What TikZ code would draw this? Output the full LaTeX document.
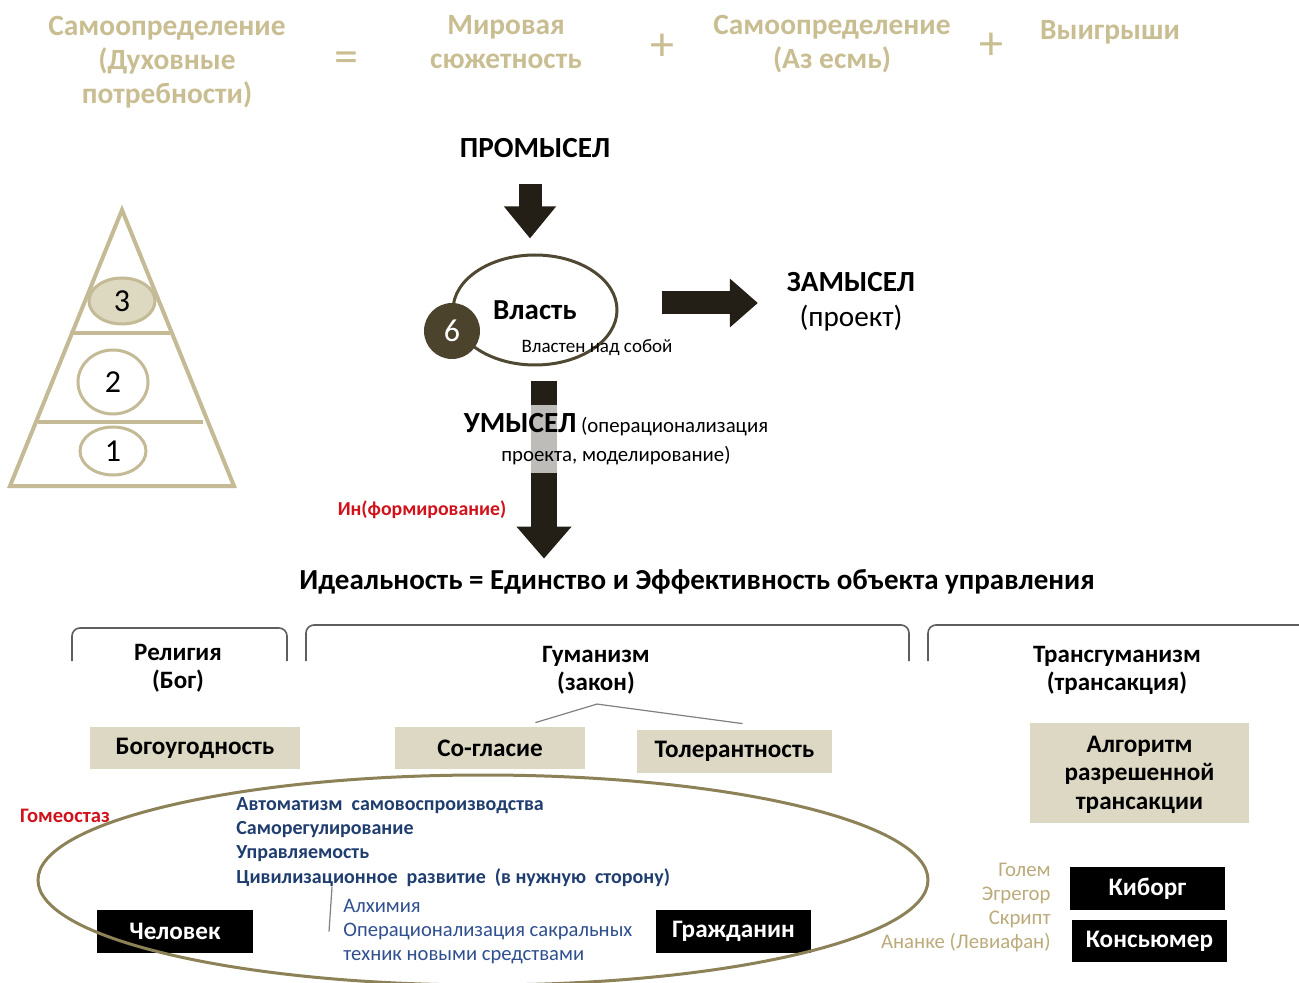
\documentclass[tikz,border=0pt]{standalone}
\usepackage{fontspec}
\setmainfont{Carlito}
\usetikzlibrary{arrows.meta,calc,shapes.geometric}
\definecolor{hdrtan}{HTML}{C9BD92}
\definecolor{pyrtan}{HTML}{C4BA96}
\definecolor{pyrfill}{HTML}{DDD8C0}
\definecolor{arrowdark}{HTML}{231F16}
\definecolor{vlastline}{HTML}{4F4832}
\definecolor{sixfill}{HTML}{4C432D}
\definecolor{boxtan}{HTML}{DDD8C3}
\definecolor{homeoline}{HTML}{8C8157}
\definecolor{brgray}{HTML}{5E5E5E}
\definecolor{navy}{HTML}{1F3D6E}
\definecolor{subblue}{HTML}{2F4F8F}
\definecolor{redtxt}{HTML}{D0121B}
\definecolor{sidetan}{HTML}{BBAA7A}
\def\fs#1#2{\fontsize{#1}{#2}\selectfont}
\tikzset{
  hdr/.style={text=hdrtan, font=\fs{14.7}{17}\bfseries, align=center},
  hdrsign/.style={text=hdrtan, font=\fs{24}{24}},
  pyr/.style={draw=pyrtan, line width=2pt},
  pyrnum/.style={ellipse, draw=pyrtan, line width=1.5pt, fill=white, inner sep=0pt, font=\fs{16}{16}},
  bigtitle/.style={font=\fs{14.6}{17.5}\bfseries},
  blockarrow/.style={draw=arrowdark, line width=11.5pt, -{Triangle[width=25pt,length=16pt]}},
  bracket/.style={draw=brgray, line width=0.8pt, rounded corners=4pt},
  sechead/.style={font=\fs{12.5}{14}\bfseries, align=center},
  tanbox/.style={fill=boxtan, inner sep=0pt, font=\fs{12.6}{14.25}\bfseries},
  blackbox/.style={fill=black, text=white, inner sep=0pt, font=\fs{12.6}{12.6}\bfseries},
  forkline/.style={draw=gray, line width=0.6pt},
  listtxt/.style={text=navy, anchor=west, inner sep=0pt, font=\fs{10}{12}\bfseries},
}
\begin{document}
\begin{tikzpicture}[x=0.5pt,y=-0.5pt]
%%%%% START %%%%%
\useasboundingbox (0,0) rectangle (1299,983);

% formula on top
\node[hdr] (samodux) at (167,62) {Самоопределение\\(Духовные\\потребности)};
\node[hdrsign] (eq) at (346,62) {=};
\node[hdr] (mir) at (506,42) {Мировая\\сюжетность};
\node[hdrsign] (plusa) at (662,47) {+};
\node[hdr] (samoaz) at (832,44) {Самоопределение\\(Аз есмь)};
\node[hdrsign] (plusb) at (991,46) {+};
\node[hdr] (vyigr) at (1110,32) {Выигрыши};

% pyramid
\draw[pyr] (122,210) -- (10,486) -- (234,486) -- cycle;
\draw[pyr] (70,333) -- (170,333);
\draw[pyr] (38,422) -- (203,422);
\node[pyrnum, fill=pyrfill, minimum width=33pt, minimum height=23pt] (lvl3) at (122,301) {3};
\node[pyrnum, minimum width=35pt, minimum height=32pt] (lvl2) at (113,382) {2};
\node[pyrnum, minimum width=33pt, minimum height=24pt] (lvl1) at (113,451) {1};

% power
\node[bigtitle] (promysel) at (535,148) {ПРОМЫСЕЛ};
\node[ellipse, draw=vlastline, line width=1.5pt, minimum width=82pt, minimum height=55pt,
  font=\fs{14.5}{14.5}\bfseries] (vlast) at (535,310) {Власть};
\node[circle, fill=sixfill, text=white, minimum size=28pt, inner sep=0pt, font=\fs{16}{16}] (six) at (452,331) {6};
\node[font=\fs{9.5}{9.5}] (nadsoboj) at (597,348) {Властен над собой};
\node[bigtitle, align=center] (zamysel) at (851,302) {ЗАМЫСЕЛ\\\mdseries(проект)};
\node[font=\fs{14.5}{14.5}\bfseries] (ideal) at (697,582) {Идеальность = Единство и Эффективность объекта управления};

\draw[blockarrow, shorten <=9.5pt, shorten >=7.5pt] ([xshift=-2.5pt]promysel.south) -- ([xshift=-2.5pt]vlast.north);
\draw[blockarrow, -{Triangle[width=23.5pt,length=14pt]}, shorten <=21.5pt, shorten >=11pt]
  ([yshift=-0.5pt]vlast.east |- zamysel.west) -- ([yshift=-0.5pt]zamysel.west);
\coordinate (umtop) at ($(vlast.south)+(9,0)$);
\draw[blockarrow, line width=13pt, -{Triangle[width=26.5pt,length=16pt]}, shorten <=7.5pt, shorten >=2pt]
  (umtop) -- (umtop |- ideal.north);

\node[fill=white, fill opacity=0.7, text opacity=1, inner xsep=0pt, inner ysep=4pt, align=center,
  font=\fs{10.4}{14.5}] (umysel) at (616,439) {{\fs{14.6}{14.5}\bfseries УМЫСЕЛ} (операционализация\\проекта, моделирование)};
\node[text=redtxt, font=\fs{9.9}{9.9}\bfseries] (inform) at (422,510) {Ин(формирование)};

% three ways
\draw[bracket] (72,661) -- (72,628) -- (287,628) -- (287,661);
\draw[bracket] (306,661) -- (306,625) -- (909,625) -- (909,661);
\draw[bracket] (928,661) -- (928,625) -- (1310,625);
\node[sechead] (relig) at (178,668) {Религия\\(Бог)};
\node[sechead] (gum) at (596,670) {Гуманизм\\(закон)};
\node[sechead] (trans) at (1117,670) {Трансгуманизм\\(трансакция)};

\node[tanbox, minimum width=105pt, minimum height=21pt] (bogoug) at (195,748) {Богоугодность};
\node[tanbox, minimum width=95pt, minimum height=21pt] (soglas) at (490,748) {Со-гласие};
\node[tanbox, minimum width=97.5pt, minimum height=21.5pt] (toler) at (734.5,751.5) {Толерантность};
\node[tanbox, minimum width=109.5pt, minimum height=50pt, align=center] (algor) at (1139.5,773) {\strut Алгоритм\\разрешенной\\трансакции};

\coordinate (gumfork) at ($(gum.south)+(1,3)$);
\draw[forkline] (gumfork) -- ($(soglas.north east)+(-50,-4)$);
\draw[forkline] (gumfork) -- ($(toler.north)+(8,-6)$);

% homeostasis
\node[text=redtxt, font=\fs{10.3}{10.3}\bfseries] (gomeo) at (65,816) {Гомеостаз};
\node[listtxt] (avto) at (236,806) {Автоматизм\ \ самовоспроизводства};
\node[listtxt] (samoreg) at (236,830) {Саморегулирование};
\node[listtxt] (uprav) at (236,854) {Управляемость};
\node[listtxt] (civ) at (236,878) {Цивилизационное\ \ развитие\ \ (в нужную\ \ сторону)};
\node[text=subblue, anchor=north west, inner sep=0pt, align=left, font=\fs{10.3}{12}] (sublist) at (343,899)
  {Алхимия\\Операционализация сакральных\\техник новыми средствами};
\draw[forkline] ($(civ.west)+(96,9)$) -- ($(sublist.west)+(-14,0)$);

\node[blackbox, minimum width=78pt, minimum height=21.5pt] (chelovek) at (175,931.5) {Человек};
\node[blackbox, minimum width=77.5pt, minimum height=21.5pt] (grazhd) at (733.5,931.5) {Гражданин};
\draw[homeoline, line width=1.5pt] (483,880) ellipse [x radius=445, y radius=105];

% transhumanism side
\node[text=sidetan, anchor=east, inner sep=0pt, align=right, font=\fs{10.4}{11.85}] (golem) at (1051,907.5)
  {Голем\\Эгрегор\\Скрипт\\Ананке (Левиафан)};
\node[blackbox, minimum width=77.5pt, minimum height=21.5pt] (kiborg) at (1147.5,888.5) {Киборг};
\node[blackbox, minimum width=77.5pt, minimum height=21pt] (konsum) at (1149.5,941) {Консьюмер};

%%%%% END %%%%%
\end{tikzpicture}
\end{document}
